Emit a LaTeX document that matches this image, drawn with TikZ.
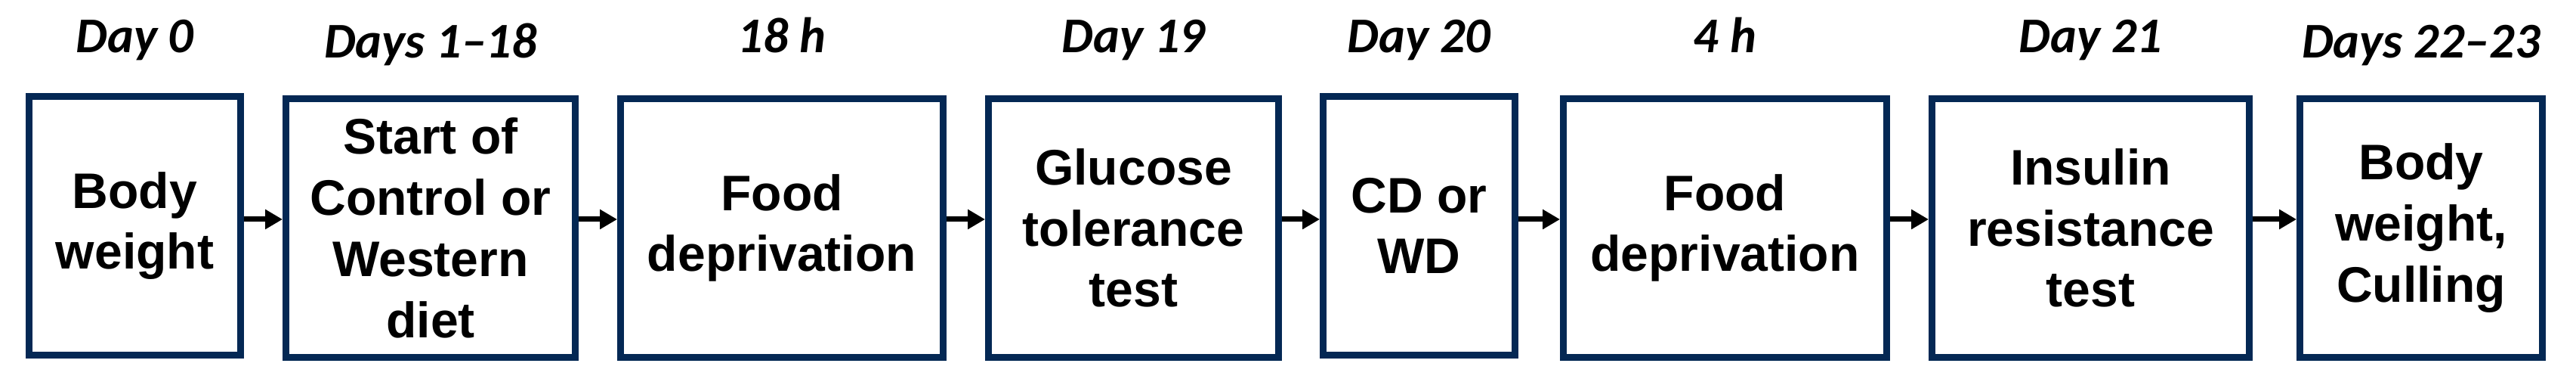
\documentclass[tikz,border=0pt]{standalone}
\usepackage{fontspec}
\setmainfont{Liberation Sans}
\newfontfamily\dayfont{Carlito}
\usetikzlibrary{arrows.meta}
\definecolor{navy}{RGB}{4,40,84}

\begin{document}
\begin{tikzpicture}[
  box/.style={draw=navy, line width=0.09cm, minimum height=3.42cm, inner sep=0pt,
    align=center, font=\fontsize{18.8}{23}\selectfont\bfseries},
  day/.style={anchor=base, font=\dayfont\fontsize{18.8}{22}\selectfont\bfseries\itshape},
  flow/.style={line width=0.07cm, -{Triangle[length=0.23cm, width=0.25cm]}}
]
  \useasboundingbox (0,0) rectangle (34.10,5.09);
  \node[box, minimum width=2.80cm] (bw0) at (1.785,2.105) {Body\\weight};
  \node[box, minimum width=3.83cm] (diet) at (5.70,2.075) {Start of\\Control or\\Western\\diet};
  \node[box, minimum width=4.27cm] (fast18) at (10.35,2.075) {Food\\deprivation};
  \node[box, minimum width=3.84cm] (gtt) at (15.005,2.075) {Glucose\\tolerance\\test};
  \node[box, minimum width=2.54cm] (cdwd) at (18.785,2.105) {CD or\\WD};
  \node[box, minimum width=4.28cm] (fast4) at (22.835,2.075) {Food\\deprivation};
  \node[box, minimum width=4.20cm] (itt) at (27.675,2.075) {Insulin\\resistance\\test};
  \node[box, minimum width=3.21cm] (cull) at (32.05,2.075) {Body\\weight,\\Culling};
  % time points
  \node[day] (d0) at (bw0 |- 0,4.39) {Day 0};
  \node[day] (d1) at (diet |- 0,4.32) {Days 1\textendash 18};
  \node[day] (h18) at (fast18 |- 0,4.39) {18 h};
  \node[day] (d19) at (gtt |- 0,4.39) {Day 19};
  \node[day] (d20) at (cdwd |- 0,4.39) {Day 20};
  \node[day] (h4) at (fast4 |- 0,4.39) {4 h};
  \node[day] (d21) at (itt |- 0,4.39) {Day 21};
  \node[day] (d22) at (cull |- 0,4.32) {Days 22\textendash 23};
  \coordinate (axis) at (0,2.19);
  \foreach \a/\b in {bw0/diet, diet/fast18, fast18/gtt, gtt/cdwd, cdwd/fast4, fast4/itt, itt/cull}
    \draw[flow] (\a.east |- axis) -- (\b.west |- axis);
\end{tikzpicture}
\end{document}
